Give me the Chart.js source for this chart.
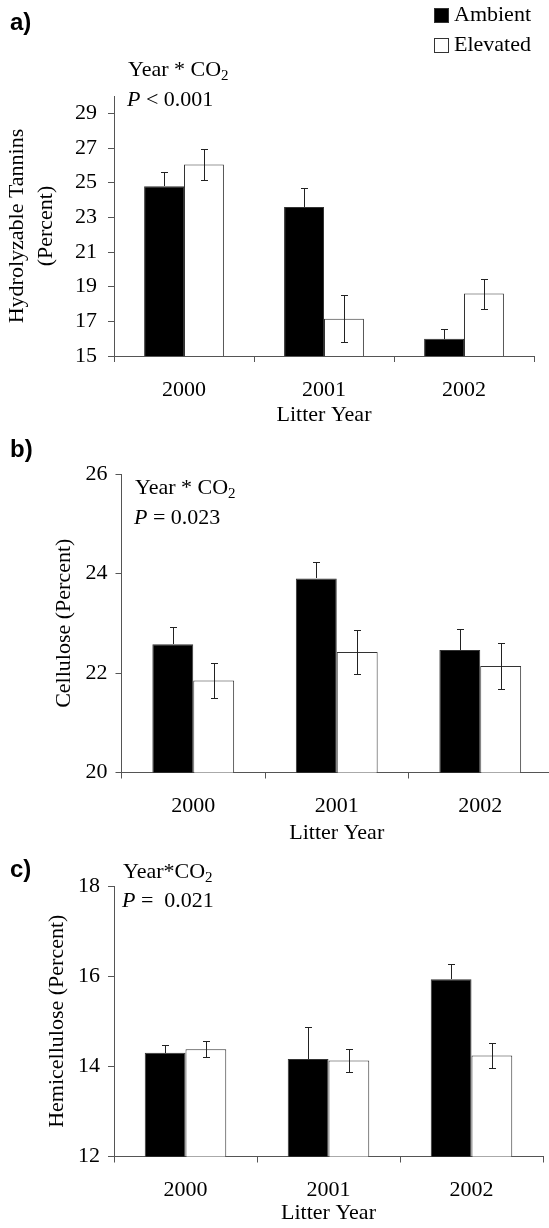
<!DOCTYPE html>
<html>
<head>
<meta charset="utf-8">
<title>Litter chemistry by litter year</title>
<script src="https://cdn.jsdelivr.net/npm/chart.js@4.4.1/dist/chart.umd.min.js"></script>
<style>
    html, body { margin: 0; padding: 0; background: #fff; overflow: hidden; }
    #page { position: relative; width: 549px; height: 1228px; overflow: hidden; }
    .panel { position: absolute; left: 0; }
</style>
</head>
<body>
<div id="page">
    <div class="panel" style="top:0px"><canvas id="chartA" width="549" height="431"></canvas></div>
    <div class="panel" style="top:431px"><canvas id="chartB" width="560" height="418"></canvas></div>
    <div class="panel" style="top:849px"><canvas id="chartC" width="549" height="380"></canvas></div>
</div>
<script>
// Data
const years = ['2000', '2001', '2002'];
const seriesNames = ['Ambient', 'Elevated'];

const tanninAmbient = [24.8, 23.6, 16.0];
const tanninAmbientErr = [0.8, 1.1, 0.58];
const tanninElevated = [26.05, 17.15, 18.6];
const tanninElevatedErr = [0.9, 1.35, 0.86];
const tanninTicks = [15, 17, 19, 21, 23, 25, 27, 29];

const celluloseAmbient = [22.58, 23.9, 22.46];
const celluloseAmbientErr = [0.34, 0.34, 0.42];
const celluloseElevated = [21.85, 22.42, 22.14];
const celluloseElevatedErr = [0.36, 0.44, 0.47];
const celluloseTicks = [20, 22, 24, 26];

const hemiAmbient = [14.3, 14.16, 15.93];
const hemiAmbientErr = [0.17, 0.72, 0.35];
const hemiElevated = [14.38, 14.13, 14.24];
const hemiElevatedErr = [0.18, 0.25, 0.28];
const hemiTicks = [12, 14, 16, 18];

const SERIF = "'Liberation Serif', 'Times New Roman', serif";
const SANS = "'Liberation Sans', Arial, sans-serif";
const AXIS = '#555';

Chart.defaults.font.family = SERIF;
Chart.defaults.font.size = 22;
Chart.defaults.color = '#000';

// Error bars drawn on top of the bars (black bars only show the upper whisker)
const errorBars = {
    id: 'errorBars',
    afterDatasetsDraw(chart) {
        const ctx = chart.ctx;
        const y = chart.scales.y;
        ctx.save();
        ctx.strokeStyle = '#222';
        ctx.lineWidth = 1;
        chart.data.datasets.forEach((ds, i) => {
            chart.getDatasetMeta(i).data.forEach((bar, j) => {
                const v = ds.data[j], e = ds.errors[j];
                const top = Math.round(y.getPixelForValue(v + e)) + 0.5;
                const bot = ds.errorDir === 'plus'
                    ? Math.round(y.getPixelForValue(v))
                    : Math.round(y.getPixelForValue(v - e)) + 0.5;
                const x = Math.round(bar.x) + 0.5;
                ctx.beginPath();
                ctx.moveTo(x, top); ctx.lineTo(x, bot);
                ctx.moveTo(x - 3.5, top); ctx.lineTo(x + 3.5, top);
                if (ds.errorDir !== 'plus') {
                    ctx.moveTo(x - 3.5, bot); ctx.lineTo(x + 3.5, bot);
                }
                ctx.stroke();
            });
        });
        ctx.restore();
    }
};

// draw a line of text made of pieces (for italic P and subscript 2)
function drawParts(ctx, x, y, parts) {
    ctx.textBaseline = 'middle';
    ctx.textAlign = 'left';
    ctx.fillStyle = '#000';
    parts.forEach(p => {
        ctx.font = p.font || ('22px ' + SERIF);
        ctx.fillText(p.t, x, y + (p.dy || 0));
        x += ctx.measureText(p.t).width;
    });
}

function notesPlugin(draw) {
    return {
        id: 'notes',
        afterDraw(chart) {
            const ctx = chart.ctx;
            ctx.save();
            draw(ctx, chart);
            ctx.restore();
        }
    };
}

function statLines(ctx, x, y1, y2, label, pText) {
    drawParts(ctx, x, y1, [
        { t: label },
        { t: '2', font: '15px ' + SERIF, dy: 6 }
    ]);
    drawParts(ctx, x - 1, y2, [
        { t: 'P', font: 'italic 22px ' + SERIF },
        { t: pText }
    ]);
}

function panelLetter(ctx, letter, y) {
    ctx.font = 'bold 24px ' + SANS;
    ctx.fillStyle = '#000';
    ctx.textAlign = 'left';
    ctx.textBaseline = 'middle';
    ctx.fillText(letter, 10, y);
}

function makePanel(id, p) {
    const datasets = [
        {
            label: seriesNames[0],
            data: p.ambient,
            errors: p.ambientErr,
            errorDir: 'plus',
            backgroundColor: '#000',
            borderColor: '#333',
            borderWidth: 1
        },
        {
            label: seriesNames[1],
            data: p.elevated,
            errors: p.elevatedErr,
            errorDir: 'both',
            backgroundColor: '#fff',
            borderColor: '#333',
            borderWidth: 1
        }
    ];

    return new Chart(document.getElementById(id), {
        type: 'bar',
        data: { labels: years, datasets: datasets },
        options: {
            responsive: false,
            animation: false,
            categoryPercentage: 0.57,
            barPercentage: 1,
            layout: { padding: { left: 0, top: p.padTop, right: p.padRight, bottom: 0 } },
            plugins: { legend: { display: false }, tooltip: { enabled: false } },
            scales: {
                x: {
                    afterFit: s => { s.height = p.xHeight; },
                    border: { color: AXIS, width: 1 },
                    grid: { drawOnChartArea: false, offset: true, tickLength: 6, color: AXIS },
                    ticks: { padding: 15, color: '#000' },
                    title: {
                        display: true,
                        text: 'Litter Year',
                        color: '#000',
                        padding: { top: 0, bottom: 3 }
                    }
                },
                y: {
                    min: p.min,
                    max: p.max,
                    afterBuildTicks: s => { s.ticks = p.ticks.map(v => ({ value: v })); },
                    afterFit: s => { s.width = p.yWidth; },
                    border: { color: AXIS, width: 1 },
                    grid: { drawOnChartArea: false, tickLength: 6, color: AXIS },
                    ticks: { padding: p.tickPad, color: '#000' },
                    title: {
                        display: true,
                        text: p.yTitle,
                        color: '#000',
                        font: { size: 22, lineHeight: 1.3 },
                        padding: { top: p.titlePad, bottom: 0 }
                    }
                }
            }
        },
        plugins: [errorBars, notesPlugin(p.notes)]
    });
}

// a) Hydrolyzable tannins
makePanel('chartA', {
    ambient: tanninAmbient, ambientErr: tanninAmbientErr,
    elevated: tanninElevated, elevatedErr: tanninElevatedErr,
    min: 15, max: 30, ticks: tanninTicks,
    yTitle: ['Hydrolyzable Tannins', '(Percent)'],
    padTop: 96, padRight: 15, xHeight: 75, yWidth: 114, tickPad: 11, titlePad: 3,
    notes: (ctx, chart) => {
        panelLetter(ctx, 'a)', 23);
        statLines(ctx, 128, 70, 100, 'Year * CO', ' < 0.001');
        // legend built from the datasets
        chart.data.datasets.forEach((ds, i) => {
            const y = 8 + i * 30;
            ctx.fillStyle = ds.backgroundColor;
            ctx.fillRect(434, y, 15, 15);
            ctx.strokeStyle = '#333';
            ctx.lineWidth = 1;
            ctx.strokeRect(434.5, y + 0.5, 14, 14);
            drawParts(ctx, 454, y + 7.5, [{ t: ds.label }]);
        });
    }
});

// b) Cellulose
makePanel('chartB', {
    ambient: celluloseAmbient, ambientErr: celluloseAmbientErr,
    elevated: celluloseElevated, elevatedErr: celluloseElevatedErr,
    min: 20, max: 26, ticks: celluloseTicks,
    yTitle: 'Cellulose (Percent)',
    padTop: 43, padRight: 8, xHeight: 76.5, yWidth: 121.5, tickPad: 8, titlePad: 50,
    notes: ctx => {
        panelLetter(ctx, 'b)', 450 - 431);
        statLines(ctx, 135, 488 - 431, 518 - 431, 'Year * CO', ' = 0.023');
    }
});

// c) Hemicellulose
makePanel('chartC', {
    ambient: hemiAmbient, ambientErr: hemiAmbientErr,
    elevated: hemiElevated, elevatedErr: hemiElevatedErr,
    min: 12, max: 18, ticks: hemiTicks,
    yTitle: 'Hemicellulose (Percent)',
    padTop: 37, padRight: 6, xHeight: 72.5, yWidth: 114, tickPad: 8, titlePad: 43,
    notes: ctx => {
        panelLetter(ctx, 'c)', 870 - 849);
        statLines(ctx, 123, 872 - 849, 901 - 849, 'Year*CO', ' =  0.021');
    }
});
</script>
</body>
</html>
